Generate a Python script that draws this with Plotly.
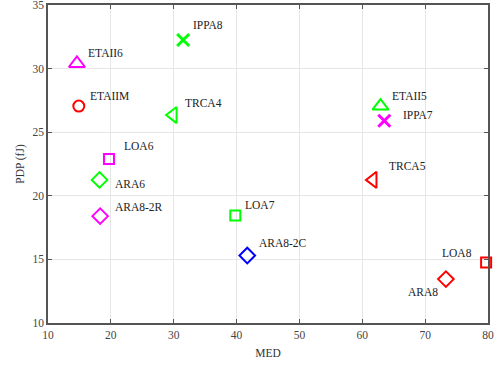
import plotly.graph_objects as go

names = ["ETAII6", "ETAIIM", "IPPA8", "TRCA4", "LOA6", "ARA6", "ARA8-2R", "LOA7",
         "ARA8-2C", "ETAII5", "IPPA7", "TRCA5", "LOA8", "ARA8"]
med = [14.6, 14.9, 31.5, 29.9, 19.7, 18.2, 18.3, 39.8, 41.7, 62.9, 63.5, 61.7, 79.7, 73.3]
pdp = [30.4, 27.05, 32.25, 26.35, 22.9, 21.25, 18.4, 18.45, 15.3, 27.05, 25.9, 21.25, 14.75, 13.45]

symbols = ["triangle-up-open", "circle-open", "x-thin-open", "triangle-left-open", "square-open",
           "diamond-open", "diamond-open", "square-open", "diamond-open", "triangle-up-open",
           "x-thin-open", "triangle-left-open", "square-open", "diamond-open"]
colors = ["#FF00FF", "#FF0000", "#00FF00", "#00FF00", "#FF00FF", "#00FF00", "#FF00FF", "#00FF00",
          "#0000FF", "#00FF00", "#FF00FF", "#FF0000", "#FF0000", "#FF0000"]
sizes = [14, 11, 12, 14, 10, 12, 12, 10, 12, 14, 12, 14, 10, 12]
# label offsets in pixels (dx, dy, anchor)
offsets = [(9, 11, "left"), (9, 10, "left"), (8, 15, "left"), (10, 12, "left"), (13, 13, "left"),
           (13, -4, "left"), (13, 9, "left"), (8, 11, "left"), (10, 13, "left"), (9, 10, "left"),
           (17, 6, "left"), (14, 14, "left"), (-12, 10, "right"), (-6, -13, "right")]

xticks = [10, 20, 30, 40, 50, 60, 70, 80]
yticks = [10, 15, 20, 25, 30, 35]

fig = go.Figure()
for i in range(len(names)):
    sym = symbols[i]
    lw = 3 if sym.startswith("x") else 2
    fig.add_trace(go.Scatter(
        x=[med[i]], y=[pdp[i]], mode="markers", name=names[i], cliponaxis=False,
        marker=dict(symbol=sym, size=sizes[i], color=colors[i],
                    line=dict(color=colors[i], width=lw)),
        showlegend=False, hoverinfo="skip"))
    dx, dy, anc = offsets[i]
    fig.add_annotation(x=med[i], y=pdp[i], text=names[i], showarrow=False,
                       xanchor=anc, yanchor="middle", xshift=dx, yshift=dy,
                       font=dict(family="Liberation Serif", size=11.5, color="#222222"))

axis_common = dict(showline=True, linecolor="#555555", linewidth=1.5, mirror="ticks",
                   ticks="inside", ticklen=4, tickcolor="#555555", automargin=False,
                   ticklabeloverflow="allow",
                   showgrid=True, gridcolor="#e6e6e6", gridwidth=1, zeroline=False,
                   tickfont=dict(family="Liberation Serif", size=11.5, color="#444444"))

fig.update_xaxes(range=[10, 80], tickvals=xticks,
                 title=dict(text="MED", font=dict(family="Liberation Serif", size=11.5, color="#333333"),
                            standoff=9),
                 **axis_common)
fig.update_yaxes(range=[10, 35], tickvals=yticks,
                 title=dict(text="PDP (fJ)", font=dict(family="Liberation Serif", size=11.5, color="#333333"),
                            standoff=5),
                 **axis_common)

fig.update_layout(width=496, height=367, margin=dict(l=48, r=8, t=5, b=44),
                  plot_bgcolor="white", paper_bgcolor="white")

fig.write_html("out.html", config={"displayModeBar": False},
               post_script="document.body.style.margin='0';document.body.style.padding='0';")
